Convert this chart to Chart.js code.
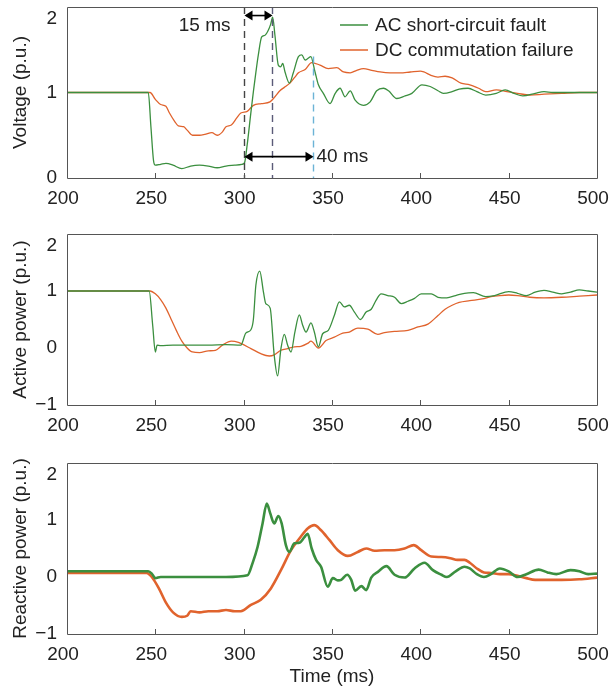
<!DOCTYPE html>
<html>
<head>
<meta charset="utf-8">
<script src="https://cdn.jsdelivr.net/npm/chart.js@4.4.0/dist/chart.umd.min.js"></script>
<style>
  body { margin: 0; background: #fff; }
  .panel { position: absolute; left: 0; width: 609px; }
</style>
</head>
<body>
<div class="panel" style="top:0;height:220px"><canvas id="voltage"></canvas></div>
<div class="panel" style="top:227px;height:220px"><canvas id="active"></canvas></div>
<div class="panel" style="top:456px;height:235px"><canvas id="reactive"></canvas></div>
<script>
// [time ms, value p.u.]
const voltageAC = [[200,1.0],[246,1.0],[247.5,0.6],[249,0.2],[250,0.15],[253,0.16],[256,0.17],[260,0.15],[265,0.11],[270,0.14],[275,0.15],[280,0.14],[285,0.12],[290,0.14],[295,0.15],[299,0.16],[300.5,0.18],[302,0.39],[304,0.75],[305.5,1.01],[307,1.25],[308.3,1.44],[310.2,1.65],[312.1,1.67],[314,1.73],[315.3,1.8],[316.4,1.88],[317.7,1.67],[319.6,1.32],[320.9,1.30],[322.1,1.34],[323.4,1.24],[325.9,1.11],[328.1,1.23],[331,1.42],[332.9,1.44],[334.8,1.38],[336.5,1.40],[338,1.42],[340.4,1.24],[342.3,1.09],[345.1,0.99],[348.9,0.87],[351.8,0.99],[354.6,1.05],[357.4,0.95],[360.3,1.02],[363.1,0.91],[367.8,0.85],[371.6,0.89],[375.3,1.02],[379.1,1.05],[382,1.02],[386.7,0.93],[391.4,0.96],[395.2,0.99],[400.9,1.09],[405.6,1.07],[410,1.02],[413,0.99],[418,1.01],[422,1.04],[427,1.05],[432,1.01],[437,0.97],[443,0.99],[448,1.03],[453,0.99],[458,0.96],[465,0.99],[470,1.01],[475,1.0],[500,1.0]];
const voltageDC = [[200,1.0],[247,1.0],[250,0.92],[253,0.86],[256,0.84],[258,0.76],[261,0.66],[263,0.61],[266,0.6],[268,0.56],[271,0.5],[275,0.5],[278,0.51],[282,0.53],[285,0.5],[288,0.54],[290,0.6],[293,0.62],[296,0.7],[298.4,0.76],[302,0.78],[305.5,0.85],[310,0.87],[314.9,0.89],[317.7,0.95],[320.5,1.02],[323,1.06],[326.2,1.11],[329,1.18],[331,1.23],[334.8,1.27],[338.5,1.35],[343.2,1.32],[347.9,1.28],[352.7,1.29],[356.5,1.24],[360.3,1.23],[364,1.26],[367.8,1.28],[372.5,1.26],[377.2,1.24],[382.9,1.23],[388.5,1.23],[394.3,1.24],[400,1.25],[402,1.24],[406,1.2],[410,1.18],[414,1.19],[418,1.17],[423,1.11],[428,1.09],[433,1.05],[437,1.01],[443,1.03],[449,1.01],[455,0.99],[462,0.97],[470,0.98],[480,0.99],[490,1.0],[500,1.0]];

const activeAC = [[200,1.0],[246.5,1.0],[248.5,0.4],[250,-0.07],[251,0.05],[253,0.04],[260,0.05],[270,0.05],[280,0.05],[290,0.06],[298.4,0.05],[301.2,0.26],[304.1,0.32],[305.5,0.5],[306.9,1.1],[309.1,1.35],[311.2,0.98],[312.5,0.78],[315,0.7],[317.3,-0.13],[319.2,-0.49],[321.1,-0.01],[323,0.24],[324.9,0.05],[326.8,-0.07],[329,0.28],[331.5,0.58],[333.4,0.4],[335.3,0.28],[338.1,0.44],[340,0.28],[342.3,0.02],[344.7,0.25],[347.9,0.31],[351.3,0.57],[354.2,0.81],[357,0.72],[359.8,0.75],[362.7,0.63],[366.1,0.5],[369.3,0.63],[372.2,0.68],[375,0.84],[377.8,0.95],[381.6,0.92],[385.4,0.89],[389.2,0.78],[393,0.82],[396.7,0.87],[400.5,0.95],[406.2,0.95],[410,0.89],[415,0.88],[420,0.92],[425,0.96],[430,0.97],[437,0.9],[442,0.92],[450,0.99],[455,0.96],[460,0.92],[465,0.98],[470,1.01],[475,0.98],[480,0.95],[485,0.98],[490,1.02],[495,1.0],[500,0.98]];
const activeDC = [[200,1.0],[247,1.0],[250,0.95],[253,0.85],[256,0.7],[259,0.5],[262,0.3],[265,0.12],[268,0.0],[271,-0.07],[275,-0.08],[280,-0.05],[284,-0.04],[288,0.05],[293,0.12],[297,0.1],[298.4,0.08],[304.1,-0.01],[309.7,-0.1],[314.5,-0.14],[317.3,-0.12],[321.1,-0.04],[324.9,-0.01],[328.7,0.02],[332.4,0.03],[336.2,0.08],[338.1,0.12],[342.3,0.0],[346.6,0.13],[351.3,0.19],[356.1,0.26],[359.8,0.28],[364.6,0.35],[370.3,0.33],[375.9,0.24],[379.7,0.27],[385.4,0.29],[393,0.31],[398.7,0.37],[404.3,0.42],[410,0.57],[414,0.68],[418,0.75],[422,0.8],[428,0.83],[435,0.86],[440,0.9],[445,0.92],[450,0.93],[455,0.92],[462,0.89],[470,0.88],[480,0.89],[490,0.91],[500,0.93]];

const reactiveAC = [[200,0.1],[246,0.1],[248,0.06],[250,-0.02],[253,0.0],[270,0.0],[290,0.0],[302.2,0.03],[305,0.24],[307.9,0.53],[310.7,0.94],[313.1,1.29],[315,1.12],[317.3,0.94],[319.6,1.07],[321.5,0.94],[323.9,0.56],[325.8,0.44],[328.7,0.59],[331.5,0.6],[334.4,0.7],[336.2,0.76],[338.5,0.5],[341,0.3],[343.8,0.18],[347.6,-0.17],[350.5,-0.02],[353.3,-0.06],[355.2,-0.05],[358.6,0.04],[360.9,-0.05],[363.1,-0.24],[366.6,-0.16],[369.4,-0.23],[372.2,-0.01],[376,0.09],[380.8,0.19],[385.4,0.04],[391.1,-0.01],[396.7,0.15],[402.4,0.25],[407.1,0.12],[411.9,0.04],[415,0.0],[420,0.1],[425,0.18],[428,0.15],[432,0.05],[436,0.0],[440,0.05],[445,0.15],[450,0.1],[455,0.0],[460,0.05],[467,0.13],[472,0.08],[477,0.05],[485,0.12],[490,0.1],[495,0.05],[500,0.06]];
const reactiveDC = [[200,0.07],[245,0.07],[248,0.0],[252,-0.2],[256,-0.45],[260,-0.62],[265,-0.7],[268,-0.68],[270,-0.6],[275,-0.62],[280,-0.6],[285,-0.6],[290,-0.58],[295,-0.6],[298.4,-0.6],[304.1,-0.49],[309.7,-0.4],[315.4,-0.2],[321.1,0.12],[326.8,0.47],[332.4,0.71],[336.2,0.85],[340,0.91],[343.8,0.82],[348.5,0.65],[353.3,0.47],[358.9,0.37],[364.6,0.44],[369.4,0.5],[374.1,0.46],[379.7,0.47],[385.4,0.47],[391.1,0.5],[396.3,0.56],[400.5,0.47],[406.2,0.36],[411.9,0.35],[417,0.33],[421,0.3],[425,0.3],[428,0.25],[432,0.15],[436,0.08],[440,0.07],[445,0.05],[450,0.05],[455,0.02],[460,-0.02],[465,-0.05],[480,-0.05],[490,-0.04],[500,-0.01]];

const seriesLabels = ["AC short-circuit fault", "DC commutation failure"];
// marker times in the voltage panel (ms)
const faultClearTime = 300;
const peakTime = 316;
const recoveryTime = 339;

const GREEN = "#3b8f3f";
const ORANGE = "#e0632d";
const TEXT = "#222";
const FONT = "'Liberation Sans', Arial, sans-serif";

Chart.defaults.font.family = FONT;
Chart.defaults.font.size = 19;
Chart.defaults.color = TEXT;

const toXY = (pairs) => pairs.map(([x, y]) => ({ x, y }));

const frame = {
  id: "frame",
  afterDraw(chart) {
    const { ctx, chartArea: a, scales: { x } } = chart;
    ctx.save();
    ctx.strokeStyle = "#555";
    ctx.lineWidth = 1;
    ctx.beginPath();
    ctx.rect(Math.round(a.left) + 0.5, Math.round(a.top) + 0.5, Math.round(a.width), Math.round(a.height));
    x.ticks.forEach((t) => {
      const p = Math.round(x.getPixelForValue(t.value)) + 0.5;
      ctx.moveTo(p, a.bottom);
      ctx.lineTo(p, a.bottom - 5);
    });
    ctx.stroke();
    ctx.restore();
  },
};

function arrowHead(ctx, x, y, dir) {
  ctx.beginPath();
  ctx.moveTo(x, y);
  ctx.lineTo(x - dir * 8, y - 5);
  ctx.lineTo(x - dir * 8, y + 5);
  ctx.closePath();
  ctx.fill();
}

function doubleArrow(ctx, x1, x2, y) {
  ctx.beginPath();
  ctx.moveTo(x1 + 2, y);
  ctx.lineTo(x2 - 2, y);
  ctx.stroke();
  arrowHead(ctx, x1, y, -1);
  arrowHead(ctx, x2, y, 1);
}

const voltageMarks = {
  id: "voltageMarks",
  afterDatasetsDraw(chart) {
    const { ctx, scales: { x, y } } = chart;
    const px = (t) => Math.round(x.getPixelForValue(t)) + 0.5;
    ctx.save();
    ctx.lineWidth = 1.4;
    ctx.setLineDash([7, 5]);
    [[faultClearTime, 2, "#444"], [peakTime, 2, "#5b5b78"], [recoveryTime, 1.42, "#6cb3d6"]].forEach(([t, top, color]) => {
      ctx.strokeStyle = color;
      ctx.beginPath();
      ctx.moveTo(px(t), y.getPixelForValue(top));
      ctx.lineTo(px(t), y.getPixelForValue(0));
      ctx.stroke();
    });
    ctx.setLineDash([]);
    ctx.strokeStyle = "#000";
    ctx.fillStyle = "#000";
    ctx.lineWidth = 1.6;
    const yTop = y.getPixelForValue(1.9);
    const yLow = y.getPixelForValue(0.25);
    doubleArrow(ctx, px(faultClearTime), px(peakTime), yTop);
    doubleArrow(ctx, px(faultClearTime), px(recoveryTime), yLow);
    ctx.fillStyle = TEXT;
    ctx.font = "19px " + FONT;
    ctx.textBaseline = "middle";
    ctx.textAlign = "right";
    ctx.fillText("15 ms", px(faultClearTime) - 14, y.getPixelForValue(1.78));
    ctx.textAlign = "left";
    ctx.fillText("40 ms", px(recoveryTime) + 3, yLow);

    // legend
    const lx = 340;
    [[GREEN, seriesLabels[0], 25], [ORANGE, seriesLabels[1], 50]].forEach(([color, label, ly]) => {
      ctx.strokeStyle = color;
      ctx.lineWidth = 1.5;
      ctx.beginPath();
      ctx.moveTo(lx, ly);
      ctx.lineTo(lx + 28, ly);
      ctx.stroke();
      ctx.fillStyle = TEXT;
      ctx.fillText(label, lx + 35, ly + 1);
    });
    ctx.restore();
  },
};

function makeChart(id, ac, dc, yTitle, yMin, lineWidth, bottomTitle, extraPlugins) {
  const axisHeight = bottomTitle ? 57 : 42;
  return new Chart(document.getElementById(id), {
    type: "line",
    data: {
      datasets: [
        { label: seriesLabels[0], data: toXY(ac), borderColor: GREEN, borderWidth: lineWidth },
        { label: seriesLabels[1], data: toXY(dc), borderColor: ORANGE, borderWidth: lineWidth },
      ],
    },
    options: {
      animation: false,
      responsive: true,
      maintainAspectRatio: false,
      layout: { padding: { left: 0, right: 12, top: 7, bottom: 0 }, autoPadding: false },
      elements: { point: { radius: 0 }, line: { cubicInterpolationMode: "monotone" } },
      plugins: { legend: { display: false }, tooltip: { enabled: false } },
      scales: {
        x: {
          type: "linear",
          min: 200,
          max: 500,
          grid: { display: false, drawTicks: false },
          border: { display: false },
          ticks: { stepSize: 50, padding: 9, labelOffset: -4, maxRotation: 0, color: TEXT },
          title: { display: !!bottomTitle, text: bottomTitle, color: TEXT, padding: { top: 0, bottom: 3 } },
          afterFit: (s) => {
            s.height = axisHeight;
            s.paddingLeft = 0;
            s.paddingRight = 0;
          },
        },
        y: {
          min: yMin,
          max: 2,
          grid: { display: false, drawTicks: false },
          border: { display: false },
          ticks: {
            stepSize: 1,
            padding: 10,
            color: TEXT,
            // the top label sits a little below its tick in the original
            callback: (v) => (v === 2 ? ["", "2"] : String(v).replace("-", "\u2212")),
          },
          title: { display: true, text: yTitle, color: TEXT, padding: { top: 9, bottom: 0 } },
          afterFit: (s) => {
            s.width = 67;
            s.paddingTop = 0;
            s.paddingBottom = 0;
          },
        },
      },
    },
    plugins: [frame].concat(extraPlugins || []),
  });
}

makeChart("voltage", voltageAC, voltageDC, "Voltage (p.u.)", 0, 1.3, null, [voltageMarks]);
makeChart("active", activeAC, activeDC, "Active power (p.u.)", -1, 1.3, null);
makeChart("reactive", reactiveAC, reactiveDC, "Reactive power (p.u.)", -1, 2.6, "Time (ms)");
</script>
</body>
</html>
